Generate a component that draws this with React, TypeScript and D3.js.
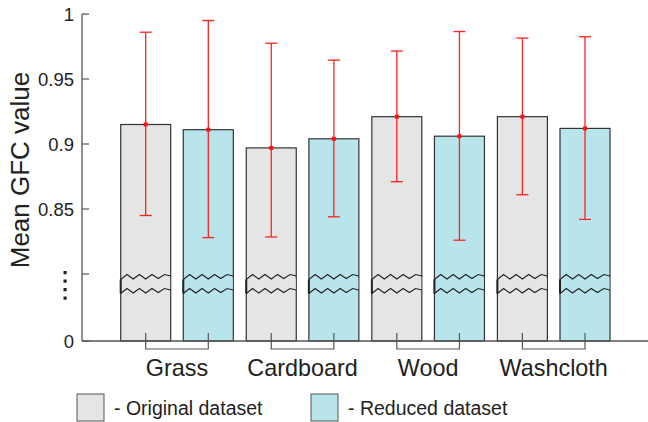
import React, { useEffect, useRef } from 'react';
import * as d3 from 'd3';

// data
const categories = ['Grass', 'Cardboard', 'Wood', 'Washcloth'];
const datasets = ['Original dataset', 'Reduced dataset'];
const originalMean = [0.915, 0.897, 0.921, 0.921];
const originalLow = [0.845, 0.8285, 0.871, 0.861];
const originalHigh = [0.986, 0.9775, 0.9715, 0.9815];
const reducedMean = [0.911, 0.904, 0.906, 0.912];
const reducedLow = [0.828, 0.844, 0.826, 0.842];
const reducedHigh = [0.995, 0.9645, 0.9865, 0.9825];
const tickValues = [0, 0.85, 0.9, 0.95, 1];
const tickLabels = ['0', '0.85', '0.9', '0.95', '1'];

const W = 648;
const H = 422;
const FONT = '"Liberation Sans", Arial, Helvetica, sans-serif';
const fills = ['#e5e5e5', '#b8e5ec'];

const App = () => {
  const ref = useRef<SVGSVGElement>(null);

  useEffect(() => {
    const svg = d3.select(ref.current);
    svg.selectAll('*').remove();

    const axisX = 82;
    const baseY = 341;

    // broken axis: 0..0.8 squeezed, 0.8..1 stretched
    const y = d3.scaleLinear().domain([0, 0.8, 1]).range([baseY, 274, 14]);
    const x0 = d3.scaleBand<string>().domain(categories).range([120.7, 610]).paddingInner(0.1033);
    const x1 = d3.scaleBand<string>().domain(datasets).range([0, x0.bandwidth()]).paddingInner(0.2013);

    const rows = categories.map((c, i) => [
      { cat: c, set: datasets[0], mean: originalMean[i], lo: originalLow[i], hi: originalHigh[i], fill: fills[0] },
      { cat: c, set: datasets[1], mean: reducedMean[i], lo: reducedLow[i], hi: reducedHigh[i], fill: fills[1] },
    ]).flat();

    const bw = x1.bandwidth();
    const barX = (d: any) => (x0(d.cat) as number) + (x1(d.set) as number);

    // bars
    svg.append('g').selectAll('rect').data(rows).enter().append('rect')
      .attr('x', barX)
      .attr('y', d => y(d.mean))
      .attr('width', bw)
      .attr('height', d => baseY - y(d.mean))
      .attr('fill', d => d.fill)
      .attr('stroke', '#333')
      .attr('stroke-width', 1.2);

    // break marks inside each bar
    const zig = [2.5, -2.5, 2, -2.5, 2, -2.5, 1.5, -2.5, -1];
    const breakYs = [y(0.8) + 3, y(0.8) + 17];
    const brk = svg.append('g');
    rows.forEach(d => {
      const bx = barX(d);
      brk.append('rect')
        .attr('x', bx + 0.6).attr('y', breakYs[0] + 1)
        .attr('width', bw - 1.2).attr('height', breakYs[1] - breakYs[0] - 2)
        .attr('fill', d.fill);
      breakYs.forEach(by => {
        const line = d3.line<number>()
          .x((_, k) => bx + (k * bw) / (zig.length - 1))
          .y(v => by + v);
        brk.append('path')
          .attr('d', line(zig))
          .attr('fill', 'none')
          .attr('stroke', '#222')
          .attr('stroke-width', 1.1);
      });
      brk.append('line')
        .attr('x1', bx).attr('x2', bx)
        .attr('y1', breakYs[0] + 2.5).attr('y2', breakYs[1] + 2.5)
        .attr('stroke', '#222').attr('stroke-width', 2);
    });

    // error bars
    const eb = svg.append('g').attr('stroke', '#ff2020').attr('stroke-width', 1.3);
    rows.forEach(d => {
      const cx = barX(d) + bw / 2;
      eb.append('line').attr('x1', cx).attr('x2', cx).attr('y1', y(d.lo)).attr('y2', y(d.hi));
      [d.lo, d.hi].forEach(v => {
        eb.append('line').attr('x1', cx - 6).attr('x2', cx + 6).attr('y1', y(v)).attr('y2', y(v));
      });
      svg.append('rect')
        .attr('x', cx - 2).attr('y', y(d.mean) - 2)
        .attr('width', 4).attr('height', 4)
        .attr('fill', '#ff1010');
    });

    // axes
    svg.append('line')
      .attr('x1', axisX).attr('x2', W).attr('y1', baseY).attr('y2', baseY)
      .attr('stroke', '#555').attr('stroke-width', 1.3);
    svg.append('line')
      .attr('x1', axisX).attr('x2', axisX).attr('y1', y(1)).attr('y2', baseY)
      .attr('stroke', '#555').attr('stroke-width', 1.3);

    const ticks = svg.append('g');
    [...tickValues, 0.8].forEach(v => {
      ticks.append('line')
        .attr('x1', axisX).attr('x2', axisX + 7).attr('y1', y(v)).attr('y2', y(v))
        .attr('stroke', '#555').attr('stroke-width', 1.2);
    });
    tickValues.forEach((v, i) => {
      ticks.append('text')
        .attr('x', 74).attr('y', y(v)).attr('dy', '0.36em')
        .attr('text-anchor', 'end')
        .attr('font-family', FONT).attr('font-size', 18.5).attr('fill', '#222')
        .text(tickLabels[i]);
    });
    // vertical dots for the break
    d3.range(4).forEach(k => {
      ticks.append('rect')
        .attr('x', 63.5).attr('y', y(0.8) - 3 + k * 8.5)
        .attr('width', 3.2).attr('height', 3.2)
        .attr('fill', '#222');
    });

    svg.append('text')
      .attr('transform', `translate(29, 170) rotate(-90)`)
      .attr('text-anchor', 'middle')
      .attr('font-family', FONT).attr('font-size', 26).attr('fill', '#222')
      .text('Mean GFC value');

    // group brackets and category labels
    const grp = svg.append('g');
    categories.forEach(c => {
      const a = (x0(c) as number) + (x1(datasets[0]) as number) + bw / 2;
      const b = (x0(c) as number) + (x1(datasets[1]) as number) + bw / 2;
      grp.append('path')
        .attr('d', `M${a},${baseY - 8}V${baseY + 8}H${b}V${baseY - 8}`)
        .attr('fill', 'none').attr('stroke', '#555').attr('stroke-width', 1.2);
      grp.append('text')
        .attr('x', (x0(c) as number) + x0.bandwidth() / 2).attr('y', 376)
        .attr('text-anchor', 'middle')
        .attr('font-family', FONT).attr('font-size', 23.4).attr('fill', '#222')
        .text(c);
    });

    // legend
    const legendX = [77, 311];
    datasets.forEach((s, i) => {
      svg.append('rect')
        .attr('x', legendX[i]).attr('y', 394)
        .attr('width', 27).attr('height', 27)
        .attr('fill', fills[i]).attr('stroke', '#555').attr('stroke-width', 1);
      svg.append('text')
        .attr('x', legendX[i] + 37).attr('y', 415)
        .attr('font-family', FONT).attr('font-size', 19.5).attr('fill', '#222')
        .text(`- ${s}`);
    });
  }, []);

  return (
    <svg ref={ref} width={W} height={H}
      style={{ position: 'absolute', left: 0, top: 0, background: '#fff' }} />
  );
};

export default App;
